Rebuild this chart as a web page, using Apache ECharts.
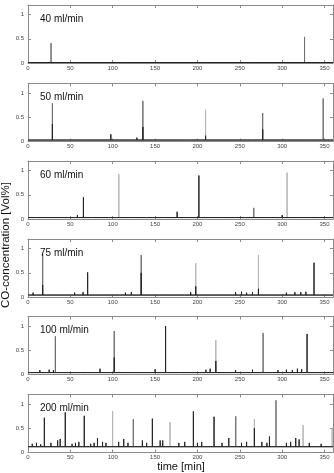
<!DOCTYPE html>
<html>
<head>
<meta charset="utf-8">
<script src="https://cdn.jsdelivr.net/npm/echarts@6/dist/echarts.min.js"></script>
<style>
  html, body { margin: 0; padding: 0; background: #fff; }
  #chart { width: 334px; height: 473px; }
</style>
</head>
<body>
<div id="chart"></div>
<script>
// CO concentration traces for six gas flow rates, time in minutes.
const panelNames = ['40 ml/min', '50 ml/min', '60 ml/min', '75 ml/min', '100 ml/min', '200 ml/min'];
const xTickValues = [0, 50, 100, 150, 200, 250, 300, 350];
const yTickValues = [0, 0.5, 1];

// baseline level of each trace [Vol%]
const baselines = [0.01, 0.03, 0.03, 0.04, 0.04, 0.12];

// peaks as [time, concentration]
const dark40 = [];
const mid40 = [[27.2, 0.41], [326.4, 0.54]];
const light40 = [];
const minor40 = [[60, 0.02], [110, 0.02], [150, 0.02], [205, 0.02], [260, 0.025], [300, 0.02]];

const dark50 = [[28.8, 0.36], [97.8, 0.15], [128.5, 0.08], [135.6, 0.3], [209.6, 0.12], [277, 0.25]];
const mid50 = [[28.8, 0.79], [135.6, 0.84], [277, 0.59], [348.4, 0.89]];
const light50 = [[209.6, 0.66]];
const minor50 = [[5, 0.05], [12, 0.06], [17, 0.05], [45, 0.04], [70, 0.04], [85, 0.06], [120, 0.05],
  [182, 0.05], [187, 0.05], [192, 0.05], [245, 0.04], [265, 0.06], [300, 0.04], [333, 0.06], [340, 0.05]];

const dark60 = [[58.3, 0.08], [65.4, 0.45], [176, 0.15], [201.7, 0.9]];
const mid60 = [[266.5, 0.23]];
const light60 = [[107.2, 0.93], [305.8, 0.96]];
const minor60 = [[10, 0.04], [20, 0.05], [30, 0.05], [40, 0.06], [48, 0.05], [55, 0.06], [75, 0.05],
  [85, 0.05], [95, 0.06], [100, 0.07], [125, 0.05], [140, 0.05], [150, 0.06], [160, 0.05], [170, 0.06],
  [185, 0.06], [195, 0.07], [215, 0.05], [230, 0.06], [245, 0.05], [255, 0.06], [275, 0.07], [285, 0.06],
  [295, 0.07], [300, 0.08], [320, 0.05], [335, 0.06], [350, 0.05]];

const dark75 = [[17.3, 0.25], [70.4, 0.51], [133.6, 0.5], [198, 0.22], [272, 0.17], [337.6, 0.71]];
const mid75 = [[17.3, 0.9], [133.6, 0.87]];
const light75 = [[198, 0.7], [272, 0.87]];
const minor75 = [[3, 0.08], [6, 0.09], [10, 0.07], [25, 0.06], [32, 0.06], [40, 0.07], [46, 0.08],
  [50, 0.08], [55, 0.09], [60, 0.08], [65, 0.1], [78, 0.06], [90, 0.07], [100, 0.08], [108, 0.08],
  [115, 0.09], [122, 0.1], [145, 0.06], [155, 0.07], [165, 0.08], [175, 0.08], [185, 0.08], [192, 0.1],
  [210, 0.06], [225, 0.07], [235, 0.08], [245, 0.1], [252, 0.11], [258, 0.09], [265, 0.1], [285, 0.07],
  [295, 0.08], [305, 0.09], [315, 0.1], [322, 0.1], [328, 0.11], [345, 0.06], [355, 0.07]];

const dark100 = [[101.8, 0.35], [162.4, 1.0], [221.7, 0.28], [329.4, 0.84]];
const mid100 = [[32.3, 0.79], [101.8, 0.9], [277.5, 0.86]];
const light100 = [[221.7, 0.71]];
const minor100 = [[3, 0.07], [8, 0.08], [14, 0.09], [20, 0.08], [25, 0.1], [30, 0.09], [45, 0.05],
  [60, 0.06], [70, 0.07], [78, 0.08], [85, 0.12], [90, 0.08], [120, 0.05], [135, 0.07], [145, 0.08],
  [150, 0.11], [156, 0.08], [170, 0.06], [180, 0.06], [200, 0.07], [210, 0.1], [215, 0.12], [235, 0.08],
  [245, 0.09], [255, 0.08], [265, 0.1], [285, 0.08], [295, 0.09], [305, 0.1], [312, 0.09], [318, 0.12],
  [323, 0.11], [340, 0.06], [350, 0.06]];

const dark200 = [[19.3, 0.72], [44, 0.83], [66.4, 0.76], [146.8, 0.7], [195.2, 0.85], [219.6, 0.74],
  [267.2, 0.5]];
const mid200 = [[124.3, 0.69], [245.2, 0.75], [292.7, 1.08]];
const light200 = [[99.9, 0.86], [167.6, 0.63], [267.2, 0.69], [324.7, 0.57], [359, 0.51]];
const minor200 = [[5, 0.18], [10, 0.2], [15, 0.17], [27, 0.2], [35, 0.25], [38, 0.28], [52, 0.18],
  [56, 0.2], [60, 0.22], [74, 0.18], [78, 0.2], [82, 0.3], [88, 0.22], [92, 0.2], [107, 0.22],
  [113, 0.28], [118, 0.2], [135, 0.25], [140, 0.2], [156, 0.25], [159, 0.25], [178, 0.2], [185, 0.22],
  [200, 0.2], [205, 0.22], [229, 0.2], [237, 0.3], [252, 0.2], [258, 0.22], [276, 0.22], [282, 0.2],
  [285, 0.33], [305, 0.2], [310, 0.22], [316, 0.3], [320, 0.27], [332, 0.2], [340, 0.16], [346, 0.18]];

const panels = [
  { dark: dark40, mid: mid40, light: light40, minor: minor40 },
  { dark: dark50, mid: mid50, light: light50, minor: minor50 },
  { dark: dark60, mid: mid60, light: light60, minor: minor60 },
  { dark: dark75, mid: mid75, light: light75, minor: minor75 },
  { dark: dark100, mid: mid100, light: light100, minor: minor100 },
  { dark: dark200, mid: mid200, light: light200, minor: minor200 }
];

const T_MIN = 0, T_MAX = 360, C_MAX = 1.2;
const FONT = "'Liberation Sans', Arial, Helvetica, sans-serif";
const gridTops = [5, 83.5, 161, 239, 316.5, 394.5];
const gridHeight = 58;

// trace along the baseline with a sharp excursion at every peak
function trace(base, peaks) {
  const pts = [[T_MIN, base]];
  peaks.slice().sort((a, b) => a[0] - b[0]).forEach(([t, c]) => {
    pts.push([t, base], [t, c], [t, base]);
  });
  pts.push([T_MAX, base]);
  return pts;
}

const grid = [], xAxis = [], yAxis = [], series = [], title = [];
const frameColor = '#8a8a8a';
const labelColor = '#444';

panels.forEach((p, i) => {
  grid.push({ left: 28, right: 1, top: gridTops[i], height: gridHeight });

  const xBase = {
    gridIndex: i, type: 'value', min: T_MIN, max: T_MAX, interval: 50,
    axisLine: { show: true, onZero: false, lineStyle: { color: frameColor, width: 1 } },
    axisTick: { show: true, inside: true, length: 3, lineStyle: { color: frameColor } },
    splitLine: { show: false }
  };
  xAxis.push(Object.assign({}, xBase, {
    position: 'bottom',
    axisLabel: {
      show: true, fontSize: 6, color: labelColor, margin: 2, fontFamily: FONT,
      showMaxLabel: false,
      formatter: v => (xTickValues.includes(v) ? String(v) : '')
    }
  }));
  xAxis.push(Object.assign({}, xBase, { position: 'top', axisLabel: { show: false } }));

  const yBase = {
    gridIndex: i, type: 'value', min: 0, max: C_MAX, interval: 0.5,
    axisLine: { show: true, onZero: false, lineStyle: { color: frameColor, width: 1 } },
    axisTick: { show: true, inside: true, length: 3, lineStyle: { color: frameColor } },
    splitLine: { show: false }
  };
  yAxis.push(Object.assign({}, yBase, {
    position: 'left',
    axisLabel: {
      show: true, fontSize: 6, color: labelColor, margin: 4, fontFamily: FONT,
      showMaxLabel: false,
      formatter: v => (yTickValues.includes(v) ? String(v) : '')
    }
  }));
  yAxis.push(Object.assign({}, yBase, { position: 'right', axisLabel: { show: false } }));

  const base = baselines[i];
  const common = {
    type: 'line', xAxisIndex: 2 * i, yAxisIndex: 2 * i, showSymbol: false, symbol: 'none',
    silent: true, animation: false
  };
  series.push(Object.assign({}, common, {
    data: trace(base, p.light), lineStyle: { color: '#b4b4b4', width: 1 }
  }));
  series.push(Object.assign({}, common, {
    data: trace(base, p.mid), lineStyle: { color: '#6e6e6e', width: 1 }
  }));
  series.push(Object.assign({}, common, {
    data: trace(base, p.dark.concat(p.minor)), lineStyle: { color: '#222', width: 1 }
  }));

  title.push({
    text: panelNames[i], left: 35, top: gridTops[i] + 4,
    textStyle: { fontSize: 10, fontWeight: 'normal', color: '#111', fontFamily: FONT }
  });
});

const chart = echarts.init(document.getElementById('chart'), null, { renderer: 'canvas' });
chart.setOption({
  animation: false,
  backgroundColor: '#fff',
  title, grid, xAxis, yAxis, series,
  graphic: [
    {
      type: 'text', x: 181, y: 466.5,
      style: { text: 'time [min]', fontSize: 11, fill: '#111', fontFamily: FONT,
               textAlign: 'center', textVerticalAlign: 'middle' }
    },
    {
      type: 'text', x: 6, y: 245, rotation: Math.PI / 2,
      style: { text: 'CO-concentration [Vol%]', fontSize: 11.5, fill: '#111', fontFamily: FONT,
               textAlign: 'center', textVerticalAlign: 'middle' }
    }
  ]
});
</script>
</body>
</html>
